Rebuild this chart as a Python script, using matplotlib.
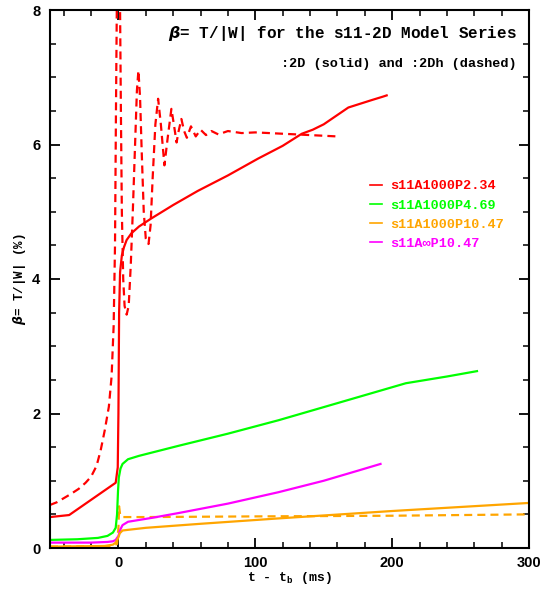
import matplotlib
matplotlib.use("Agg")
import matplotlib.pyplot as plt
from matplotlib.font_manager import FontProperties
from matplotlib.lines import Line2D
from matplotlib.ticker import MultipleLocator

# time after bounce (ms) and beta = T/|W| (%) for each model
t_234_2d = [-50, -36, -2, -0.5, 0, 0.5, 1.2, 2.5, 4, 6, 9.5, 15, 24, 40, 58, 80, 102, 120, 134, 142, 150, 168, 185, 193, 196]
b_234_2d = [0.46, 0.49, 0.97, 1.2, 2.0, 3.5, 4.1, 4.35, 4.47, 4.58, 4.68, 4.78, 4.9, 5.1, 5.31, 5.54, 5.79, 5.98, 6.16, 6.22, 6.3, 6.55, 6.66, 6.71, 6.73]

t_234_2dh = [-50, -45, -40, -35, -29, -24, -20, -16, -13, -10, -7, -5, -3.5, -2.5, -1.8, -1, 0, 1, 1.8, 2.5, 3.5, 4.5, 6,
             7.5, 9, 10.5, 12, 13.5, 14.6, 15.8, 17, 18.5, 20, 22, 23.5, 25, 27, 29, 31, 33.6, 36, 38.7, 40.5, 42.5,
             44, 46, 48, 50, 53, 56.5, 60, 64, 68, 73, 80, 90, 100, 120, 140, 160]
b_234_2dh = [0.64, 0.68, 0.74, 0.8, 0.88, 0.97, 1.06, 1.22, 1.45, 1.75, 2.1, 2.55, 3.3, 4.5, 6.5, 8.5, 9.2, 8.5, 6.5, 5.0, 4.0, 3.6, 3.47,
             3.6, 4.2, 5.0, 5.9, 6.8, 7.1, 6.7, 5.9, 5.0, 4.6, 4.52, 4.8, 5.5, 6.3, 6.68, 6.3, 5.69, 6.1, 6.53, 6.3, 6.03,
             6.2, 6.38, 6.2, 6.1, 6.27, 6.12, 6.22, 6.14, 6.2, 6.15, 6.2, 6.17, 6.18, 6.16, 6.14, 6.12]

t_469_2d = [-50, -30, -15, -8, -4, -2, -1, -0.3, 0.3, 1.5, 3, 7, 15, 44, 80, 117, 161, 210, 240, 262]
b_469_2d = [0.12, 0.13, 0.15, 0.18, 0.23, 0.3, 0.5, 0.85, 1.05, 1.18, 1.25, 1.32, 1.37, 1.52, 1.7, 1.9, 2.16, 2.45, 2.55, 2.63]

t_1047_2d = [-50, -10, -4, -2, 0, 1, 3, 7, 20, 60, 117, 200, 250, 300]
b_1047_2d = [0.02, 0.03, 0.05, 0.08, 0.16, 0.22, 0.26, 0.27, 0.3, 0.36, 0.44, 0.55, 0.61, 0.67]

t_1047_2dh = [-50, -5, -1, 0, 0.5, 1.2, 2.5, 20, 100, 200, 300]
b_1047_2dh = [0.02, 0.03, 0.06, 0.3, 0.62, 0.5, 0.46, 0.46, 0.47, 0.48, 0.5]

t_inf_2d = [-50, -20, -8, -4, -2, 0, 1.5, 3, 7, 25, 44, 80, 117, 150, 175, 191.5]
b_inf_2d = [0.08, 0.08, 0.09, 0.1, 0.12, 0.18, 0.28, 0.34, 0.39, 0.45, 0.52, 0.66, 0.83, 1.0, 1.15, 1.25]

labels = ["s11A1000P2.34", "s11A1000P4.69", "s11A1000P10.47", "s11A\u221eP10.47"]
colors = ["#ff0000", "#00ff00", "#ffa500", "#ff00ff"]

MONO = ["Liberation Mono", "DejaVu Sans Mono"]


def main() -> None:
    plt.rcParams.update(
        {
            "font.family": "Liberation Sans",
            "font.weight": "bold",
            "axes.linewidth": 1.5,
            "xtick.direction": "in",
            "ytick.direction": "in",
            "xtick.top": True,
            "ytick.right": True,
            "xtick.major.size": 7,
            "ytick.major.size": 7,
            "xtick.minor.size": 4,
            "ytick.minor.size": 4,
            "xtick.major.width": 1.3,
            "ytick.major.width": 1.3,
            "xtick.minor.width": 1.1,
            "ytick.minor.width": 1.1,
            "xtick.labelsize": 10.5,
            "ytick.labelsize": 10.5,
        }
    )

    fig = plt.figure(figsize=(5.44, 5.90), dpi=100)
    ax = fig.add_axes([50 / 544, 42 / 590, 479 / 544, 538 / 590])

    lw = 1.6
    dash = (0, (3.6, 2.3))
    ax.plot(t_234_2dh, b_234_2dh, color=colors[0], lw=lw, linestyle=dash)
    ax.plot(t_1047_2dh, b_1047_2dh, color=colors[2], lw=lw, linestyle=dash)
    ax.plot(t_234_2d, b_234_2d, color=colors[0], lw=lw)
    ax.plot(t_469_2d, b_469_2d, color=colors[1], lw=lw)
    ax.plot(t_inf_2d, b_inf_2d, color=colors[3], lw=lw)
    ax.plot(t_1047_2d, b_1047_2d, color=colors[2], lw=lw)

    ax.set_xlim(-50, 300)
    ax.set_ylim(0, 8)
    ax.set_xticks([0, 100, 200, 300])
    ax.set_yticks([0, 2, 4, 6, 8])
    ax.xaxis.set_minor_locator(MultipleLocator(20))
    ax.yaxis.set_minor_locator(MultipleLocator(0.5))
    ax.tick_params(axis="x", which="major", pad=6)
    ax.tick_params(axis="y", which="major", pad=7)

    ax.set_xlabel(r"t - t$_\mathregular{b}$ (ms)", va="center",
                  fontproperties=FontProperties(family=MONO, weight="bold", size=9.5))
    ax.xaxis.set_label_coords(0.5, -30 / 538)
    ax.set_ylabel(r"$\beta$= T/|W| (%)", va="center",
                  fontproperties=FontProperties(family=MONO, weight="bold", size=9))
    ax.yaxis.set_label_coords(-30 / 479, 0.5)

    ax.text(0.975, 0.957, r"$\beta$= T/|W| for the s11-2D Model Series",
            transform=ax.transAxes, ha="right", va="center",
            fontproperties=FontProperties(family=MONO, weight="bold", size=11.5))
    ax.text(0.975, 0.9, ":2D (solid) and :2Dh (dashed)",
            transform=ax.transAxes, ha="right", va="center",
            fontproperties=FontProperties(family=MONO, weight="bold", size=9.7))

    handles = [Line2D([], [], color=c, lw=1.2) for c in colors]
    ax.legend(handles, labels, loc="upper left", bbox_to_anchor=(0.668, 0.684),
              frameon=False, borderpad=0, borderaxespad=0, handlelength=0.9,
              handletextpad=0.6, labelspacing=0.5, labelcolor=colors,
              prop=FontProperties(family=MONO, weight="bold", size=9.7))

    fig.savefig("out.png", dpi=100)
    plt.close(fig)


if __name__ == "__main__":
    main()
